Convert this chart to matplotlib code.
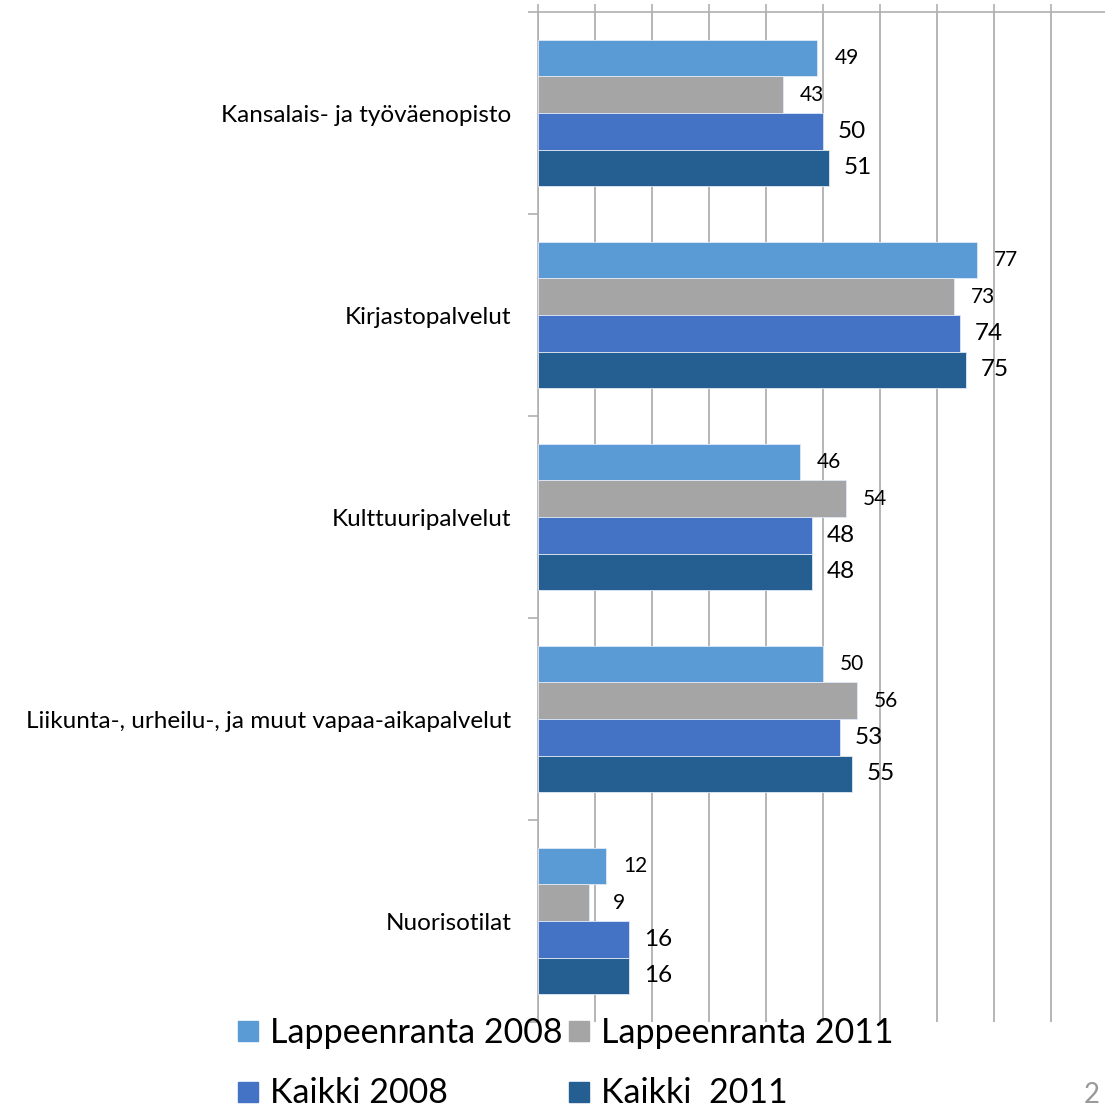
import numpy as np
import matplotlib.pyplot as plt
from matplotlib.lines import Line2D

plt.rcParams['font.family'] = ['Lato', 'DejaVu Sans']

categories = ["Kansalais- ja työväenopisto", "Kirjastopalvelut", "Kulttuuripalvelut",
              "Liikunta-, urheilu-, ja muut vapaa-aikapalvelut", "Nuorisotilat"]
series_names = ["Lappeenranta 2008", "Lappeenranta 2011", "Kaikki 2008", "Kaikki  2011"]
lpr_2008 = [49, 77, 46, 50, 12]
lpr_2011 = [43, 73, 54, 56, 9]
kaikki_2008 = [50, 74, 48, 53, 16]
kaikki_2011 = [51, 75, 48, 55, 16]

colors = ["#5B9BD5", "#A5A5A5", "#4472C4", "#255E91"]
label_sizes = [15, 15, 17.5, 17.5]

fig = plt.figure(figsize=(11.05, 11.09), dpi=100)
ax = fig.add_axes([538/1105, 87/1109, 570/1105, 1010/1109])

y = np.arange(len(categories))
h = 0.181
all_series = [lpr_2008, lpr_2011, kaikki_2008, kaikki_2011]
for i, vals in enumerate(all_series):
    pos = y + (i - 1.5) * h
    ax.barh(pos, vals, height=h, color=colors[i], edgecolor="#dfe9f5", linewidth=0.6, zorder=3)
    for p, v in zip(pos, vals):
        ax.annotate(str(v), (v, p), xytext=(21, 0), textcoords="offset points",
                    ha="center", va="center", fontsize=label_sizes[i], color="black", zorder=4)

ax.set_xlim(0, 100)
ax.set_ylim(len(categories) - 0.5, -0.5)

# value axis on top, no labels, gridlines
ax.xaxis.tick_top()
ax.set_xticks(np.arange(0, 101, 10))
ax.set_xticklabels([])
ax.tick_params(axis="x", length=6, width=1.2, color="#b0b0b0", direction="out")
ax.grid(axis="x", color="#b0b0b0", linewidth=1.3, zorder=0)

# category axis
ax.set_yticks(np.arange(-0.5, len(categories), 1.0))
ax.set_yticklabels([])
ax.set_yticks(y, minor=True)
ax.set_yticklabels(categories, minor=True, fontsize=17.5)
ax.tick_params(axis="y", which="major", length=7, width=1.2, color="#b0b0b0")
ax.tick_params(axis="y", which="minor", length=0, pad=19)

for s in ["right", "bottom"]:
    ax.spines[s].set_visible(False)
for s in ["left", "top"]:
    ax.spines[s].set_color("#b0b0b0")
    ax.spines[s].set_linewidth(1.2)

handles = [Line2D([], [], marker="s", linestyle="none", markersize=15, color=c) for c in colors]
order = [0, 2, 1, 3]
leg = fig.legend([handles[k] for k in order], [series_names[k] for k in order],
                 loc="lower left", bbox_to_anchor=(205/1105, -0.028), ncol=2, frameon=False,
                 fontsize=24.5, handlelength=0.7, handletextpad=0.3, columnspacing=0.15,
                 labelspacing=0.85)

fig.text(1084/1105, 0.001, "2", fontsize=20, color="#999999", ha="left", va="bottom")

fig.savefig("out.png", dpi=100)
